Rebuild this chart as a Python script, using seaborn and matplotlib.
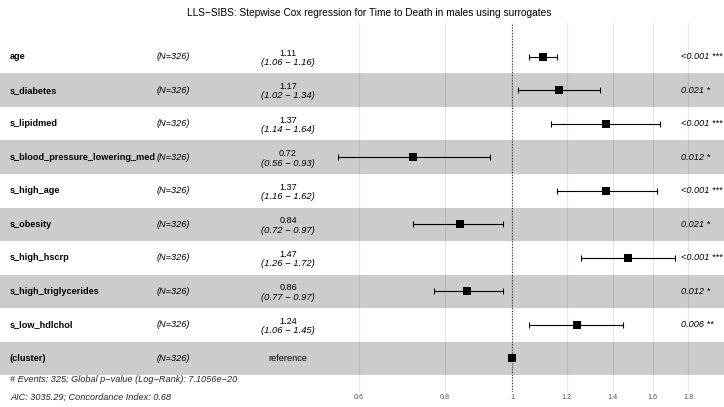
import numpy as np
import pandas as pd
import matplotlib
matplotlib.use("Agg")
import matplotlib.pyplot as plt
import matplotlib.transforms as mtransforms
import seaborn as sns

# ---- data ----
variables = ["age", "s_diabetes", "s_lipidmed", "s_blood_pressure_lowering_med",
             "s_high_age", "s_obesity", "s_high_hscrp", "s_high_triglycerides",
             "s_low_hdlchol", "(cluster)"]
n_labels = ["(N=326)"] * 10
hr = [1.11, 1.17, 1.37, 0.72, 1.37, 0.84, 1.47, 0.86, 1.24, 1.00]
ci_low = [1.06, 1.02, 1.14, 0.56, 1.16, 0.72, 1.26, 0.77, 1.06, np.nan]
ci_high = [1.16, 1.34, 1.64, 0.93, 1.62, 0.97, 1.72, 0.97, 1.45, np.nan]
p_labels = ["<0.001 ***", "0.021 *", "<0.001 ***", "0.012 *", "<0.001 ***",
            "0.021 *", "<0.001 ***", "0.012 *", "0.006 **", ""]
x_ticks = [0.6, 0.8, 1.0, 1.2, 1.4, 1.6, 1.8]
x_tick_labels = ["0.6", "0.8", "1", "1.2", "1.4", "1.6", "1.8"]
title = "LLS\u2212SIBS: Stepwise Cox regression for Time to Death in males using surrogates"
foot1 = "# Events: 325; Global p\u2212value (Log\u2212Rank): 7.1056e\u221220"
foot2 = "AIC: 3035.29; Concordance Index: 0.68"

df = pd.DataFrame({"var": variables, "hr": hr, "lo": ci_low, "hi": ci_high,
                   "pos": np.arange(1, len(variables) + 1)})

# ---- style ----
sns.set_theme(style="white")
plt.rcParams["font.family"] = ["Liberation Sans", "DejaVu Sans"]

W, H = 724, 407
fig = plt.figure(figsize=(W / 100, H / 100), dpi=100)
top_px, bot_px = 23, 392
ax = fig.add_axes([0, (H - bot_px) / H, 1, (bot_px - top_px) / H])

ax.set_xscale("log")
ax.set_xlim(np.exp(-512 / 300), np.exp(212 / 300))
ax.set_ylim(len(variables) + 1, 0)

# gridlines
ax.set_axisbelow(True)
ax.grid(axis="x", color="#E6E6E6", linewidth=0.8)
ax.grid(axis="y", visible=False)
ax.minorticks_off()
ax.set_xticks(x_ticks)
ax.set_xticklabels(x_tick_labels)
ax.tick_params(axis="x", length=0, pad=1.5, labelsize=5.2, labelcolor="#555555")
ax.set_yticks([])
for s in ax.spines.values():
    s.set_visible(False)

# alternating bands
for i, p in enumerate(df["pos"]):
    if i % 2 == 1:
        ax.axhspan(p - 0.5, p + 0.5, color="black", alpha=0.2, linewidth=0, zorder=1)

# reference line
ax.axvline(1, color="#333333", linestyle=(0, (1, 1.5)), linewidth=0.8, zorder=2)

# CIs
ax.errorbar(df["hr"], df["pos"], xerr=[df["hr"] - df["lo"], df["hi"] - df["hr"]],
            fmt="none", ecolor="black", elinewidth=0.8, capsize=1.9, capthick=0.8, zorder=3)
sns.scatterplot(data=df, x="hr", y="pos", marker="s", s=34, color="black",
                linewidth=0, ax=ax, zorder=4, legend=False)
ax.set_xlabel("")
ax.set_ylabel("")

# text columns
trans = mtransforms.blended_transform_factory(ax.transAxes, ax.transData)
fs = 6.6
for i, row in df.iterrows():
    y = row["pos"]
    ax.text(10 / W, y, variables[i], transform=trans, ha="left", va="center",
            fontsize=fs, fontweight="bold", color="black")
    ax.text(157 / W, y, n_labels[i], transform=trans, ha="left", va="center",
            fontsize=fs, style="italic", color="black")
    if np.isnan(ci_low[i]):
        ax.text(288 / W, y, "reference", transform=trans, ha="center", va="center",
                fontsize=fs, color="black")
    else:
        ax.text(288 / W, y + 0.03, f"{hr[i]:.2f}", transform=trans, ha="center", va="bottom",
                fontsize=fs, color="black")
        ax.text(288 / W, y + 0.04, f"({ci_low[i]:.2f} \u2212 {ci_high[i]:.2f})", transform=trans,
                ha="center", va="top", fontsize=6.8, style="italic", color="black")
    if p_labels[i]:
        ax.text(681 / W, y, p_labels[i], transform=trans, ha="left", va="center",
                fontsize=fs, style="italic", color="black")

fig.text(369 / W, 1 - 13 / H, title, ha="center", va="center", fontsize=7.3, color="black")
fig.text(10 / W, 1 - 380 / H, foot1, ha="left", va="center", fontsize=fs, style="italic")
fig.text(10 / W, 1 - 397 / H, foot2, ha="left", va="center", fontsize=fs, style="italic")

fig.savefig("out.png", dpi=100)
